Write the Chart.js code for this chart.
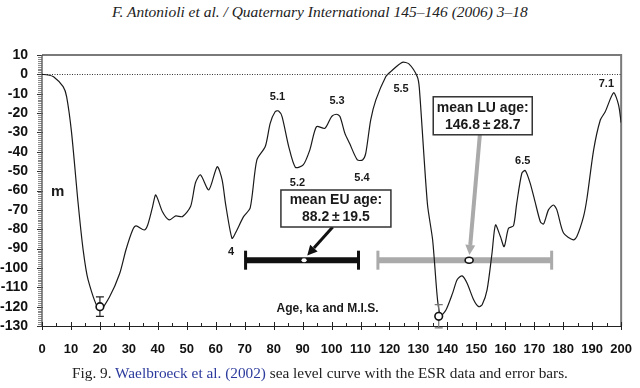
<!DOCTYPE html>
<html>
<head>
<meta charset="utf-8">
<script src="https://cdn.jsdelivr.net/npm/chart.js@4"></script>
<style>
  html, body { margin: 0; padding: 0; background: #fff; }
  #wrap { position: relative; width: 640px; height: 388px; overflow: hidden; }
  #chart { position: absolute; left: 0; top: 0; }
  .hdr { position: absolute; left: 0; width: 640px; text-align: center; font-family: "Liberation Serif", "DejaVu Serif", serif; color: #222; white-space: nowrap; }
  #title { top: 3px; font-size: 15.5px; font-style: italic; }
  #caption { top: 364px; font-size: 15.3px; }
  #caption span { color: #2b3a9c; }
</style>
</head>
<body>
<div id="wrap">
  <div id="title" class="hdr">F. Antonioli et al. / Quaternary International 145–146 (2006) 3–18</div>
  <canvas id="chart" width="640" height="388"></canvas>
  <div id="caption" class="hdr">Fig. 9. <span>Waelbroeck et al. (2002)</span> sea level curve with the ESR data and error bars.</div>
</div>
<script>
// Waelbroeck et al. (2002) sea level curve
const ages = [0, 2, 4, 7.3, 8.5, 10.2, 12.5, 14.2, 15.9, 19.9, 23.3, 26.8, 29, 31.3, 32.5, 35.3, 36.5, 38.2, 39.3,
  41.6, 43.9, 46.2, 48.5, 51.3, 53, 54.7, 57.6, 60.5, 62.2, 63.4, 65.6, 66.8, 69.6, 71.9, 74.2, 77.1, 78.8,
  80.5, 81.7, 82.9, 85.2, 87.5, 90.2, 92.5, 94.8, 97.7, 100, 101.7, 102.9, 104.6, 106.2, 108.9, 110.7, 111.8,
  113.5, 115.3, 118.7, 120.4, 124.4, 126.7, 129.6, 130.3, 133.1, 134.9, 136.6, 137.7, 139.5, 141.8, 143.4,
  145.1, 146.8, 149.1, 150.8, 152, 153.7, 155.4, 156.6, 158.3, 159.6, 161.1, 162.8, 163.9, 165.7, 166.9,
  168.6, 170.3, 172.1, 173.2, 174.9, 176.6, 177.8, 180.1, 183.5, 184.7, 187, 188.2, 190.5, 192.8, 194.5,
  197.4, 199.1, 200];
const seaLevel = [0, -0.3, -1.2, -6.3, -11.5, -30, -67, -90.6, -106, -121.7, -115, -103, -90.6, -80.4, -78.3, -80.4, -77.8, -68.3, -62.3,
  -71, -75.2, -73.1, -73.5, -68.3, -56, -51.9, -59.7, -47.7, -54.5, -67, -84.7, -82, -73.5, -69, -44.2, -37.3, -25.3,
  -19.3, -18.9, -21.8, -37.3, -48, -46.8, -39, -27, -27.9, -21.8, -20.6, -21.8, -30.5, -35.6, -44.2, -44.2, -40.8,
  -23.6, -13.2, -1.2, 1.4, 6.2, 5.4, -1.2, -7, -67, -85.6, -116.6, -124.5, -121.7, -113, -106,
  -104.1, -107.9, -116.6, -120, -119, -111.3, -92.4, -77.8, -83.8, -89, -79.5, -78.3, -67, -51.1, -49.7,
  -56.3, -66, -76.1, -77.3, -70, -67.5, -70, -82, -85.5, -83.8, -73.5, -64, -39, -23.6, -19.3,
  -9.5, -15.8, -25];

// ESR samples with error bars
const esrAge = [20, 137];
const esrLevel = [-120, -125];
const esrLow = [-125, -131];
const esrHigh = [-115, -119];

// mean ages with spread (as drawn)
const meanNames = ["mean EU age:", "mean LU age:"];
const meanText = ["88.2\u2009\u00b1\u200919.5", "146.8\u2009\u00b1\u200928.7"];
const meanFrom = [70.3, 116];
const meanTo = [109.3, 176];
const meanAt = [90.5, 147.5];
const meanLevel = [-96, -96];

// marine isotope stage labels
const misNames = ["5.1", "5.2", "5.3", "5.4", "5.5", "4", "6.5", "7.1"];
const misAge = [81.3, 88.2, 101.9, 110.5, 124, 65.3, 166, 194.9];
const misLevel = [-11.5, -56, -13.6, -53.7, -7.7, -91.9, -44.7, -5.1];

const xTicks = [0, 10, 20, 30, 40, 50, 60, 70, 80, 90, 100, 110, 120, 130, 140, 150, 160, 170, 180, 190, 200];
const yTicks = [10, 0, -10, -20, -30, -40, -50, -60, -70, -80, -90, -100, -110, -120, -130];

const SANS = '"Liberation Sans", Arial, sans-serif';

const decor = {
  id: "decor",
  beforeDatasetsDraw(chart) {
    const { ctx, chartArea: a, scales: { x, y } } = chart;
    ctx.save();
    // frame top + right
    ctx.strokeStyle = "#7a7a7a";
    ctx.lineWidth = 2;
    ctx.beginPath();
    ctx.moveTo(a.left, a.top); ctx.lineTo(a.right, a.top); ctx.lineTo(a.right, a.bottom);
    ctx.stroke();
    // left axis with dense minor ticks
    ctx.strokeStyle = "#8a8a8a";
    ctx.lineWidth = 1;
    for (let v = -130; v <= 10; v++) {
      const py = Math.round(y.getPixelForValue(v)) + 0.5;
      ctx.beginPath();
      ctx.moveTo(a.left - 4, py); ctx.lineTo(a.left, py);
      ctx.stroke();
    }
    ctx.strokeStyle = "#333";
    for (let v = -130; v <= 10; v += 10) {
      const py = Math.round(y.getPixelForValue(v)) + 0.5;
      ctx.beginPath();
      ctx.moveTo(a.left - 5, py); ctx.lineTo(a.left + 1, py);
      ctx.stroke();
    }
    ctx.strokeStyle = "#666";
    ctx.lineWidth = 1.5;
    ctx.beginPath();
    ctx.moveTo(a.left, a.top); ctx.lineTo(a.left, a.bottom);
    ctx.stroke();
    // bottom axis
    ctx.strokeStyle = "#222";
    ctx.lineWidth = 1;
    ctx.beginPath();
    ctx.moveTo(a.left, a.bottom + 0.5); ctx.lineTo(a.right, a.bottom + 0.5);
    ctx.stroke();
    for (let v = 0; v <= 200; v += 5) {
      const px = Math.round(x.getPixelForValue(v)) + 0.5;
      const major = v % 10 === 0;
      ctx.beginPath();
      ctx.moveTo(px, a.bottom - (major ? 4 : 3));
      ctx.lineTo(px, a.bottom + (major ? 4 : 0));
      ctx.stroke();
    }
    // dotted zero line
    ctx.strokeStyle = "#333";
    ctx.setLineDash([1, 1.5]);
    const y0 = Math.round(y.getPixelForValue(0)) + 0.5;
    ctx.beginPath();
    ctx.moveTo(a.left, y0); ctx.lineTo(a.right, y0);
    ctx.stroke();
    ctx.setLineDash([]);
    ctx.restore();
  },
  afterDatasetsDraw(chart) {
    const { ctx, scales: { x, y } } = chart;
    ctx.save();
    // caps on mean-age bars
    const barCol = ["#111", "#aaaaaa"];
    meanFrom.forEach((f, i) => {
      const py = y.getPixelForValue(meanLevel[i]);
      ctx.strokeStyle = barCol[i];
      ctx.lineWidth = 3;
      [f, meanTo[i]].forEach(v => {
        const px = x.getPixelForValue(v);
        ctx.beginPath();
        ctx.moveTo(px, py - 9.5); ctx.lineTo(px, py + 9.5);
        ctx.stroke();
      });
    });
    // dots on mean bars
    let px = x.getPixelForValue(meanAt[0]), py = y.getPixelForValue(meanLevel[0]);
    ctx.fillStyle = "#fff";
    ctx.beginPath(); ctx.ellipse(px, py, 2.6, 2, 0, 0, Math.PI * 2); ctx.fill();
    px = x.getPixelForValue(meanAt[1]); py = y.getPixelForValue(meanLevel[1]);
    ctx.strokeStyle = "#111"; ctx.lineWidth = 1.6;
    ctx.beginPath(); ctx.ellipse(px, py, 4, 3, 0, 0, Math.PI * 2); ctx.fill(); ctx.stroke();

    // ESR error whiskers
    const errCol = ["#222", "#777"];
    esrAge.forEach((v, i) => {
      const ex = x.getPixelForValue(v);
      const top = y.getPixelForValue(esrHigh[i]), bot = y.getPixelForValue(esrLow[i]);
      ctx.strokeStyle = errCol[i];
      ctx.lineWidth = 1.2;
      ctx.beginPath();
      ctx.moveTo(ex, top); ctx.lineTo(ex, bot);
      ctx.moveTo(ex - 4, top); ctx.lineTo(ex + 4, top);
      ctx.moveTo(ex - 4, bot); ctx.lineTo(ex + 4, bot);
      ctx.stroke();
      const ey = y.getPixelForValue(esrLevel[i]);
      ctx.fillStyle = "#fff";
      ctx.strokeStyle = "#111";
      ctx.lineWidth = 1.6;
      ctx.beginPath(); ctx.arc(ex, ey, 3.8, 0, Math.PI * 2); ctx.fill(); ctx.stroke();
    });

    // label boxes and arrows
    const boxes = [
      { cx: 101.5, cy: -69.3, w: 110, h: 37, ax: 100.4, ay: -78.8, tx: 91.6, ty: -93.6, col: "#111", lw: 3 },
      { cx: 152.2, cy: -21.4, w: 99, h: 38, ax: 151.2, ay: -31.3, tx: 147.6, ty: -93.3, col: "#aaaaaa", lw: 4 }
    ];
    boxes.forEach((b, i) => {
      // arrow
      const x1 = x.getPixelForValue(b.ax), y1 = y.getPixelForValue(b.ay);
      const x2 = x.getPixelForValue(b.tx), y2 = y.getPixelForValue(b.ty);
      const ang = Math.atan2(y2 - y1, x2 - x1);
      const hl = 10, hw = 5;
      const bx = x2 - hl * Math.cos(ang), by = y2 - hl * Math.sin(ang);
      ctx.strokeStyle = b.col; ctx.fillStyle = b.col; ctx.lineWidth = b.lw;
      ctx.beginPath(); ctx.moveTo(x1, y1); ctx.lineTo(bx, by); ctx.stroke();
      ctx.beginPath();
      ctx.moveTo(x2, y2);
      ctx.lineTo(bx + hw * Math.sin(ang), by - hw * Math.cos(ang));
      ctx.lineTo(bx - hw * Math.sin(ang), by + hw * Math.cos(ang));
      ctx.closePath(); ctx.fill();
      // box
      const cx = x.getPixelForValue(b.cx), cy = y.getPixelForValue(b.cy);
      ctx.fillStyle = "#fff";
      ctx.strokeStyle = "#333"; ctx.lineWidth = 1.5;
      ctx.fillRect(cx - b.w / 2, cy - b.h / 2, b.w, b.h);
      ctx.strokeRect(cx - b.w / 2, cy - b.h / 2, b.w, b.h);
      ctx.fillStyle = "#1a1a1a";
      ctx.font = "bold 14px " + SANS;
      ctx.textAlign = "center"; ctx.textBaseline = "middle";
      ctx.fillText(meanNames[i], cx, cy - 8);
      ctx.fillText(meanText[i], cx, cy + 9);
    });

    // stage labels
    ctx.fillStyle = "#1a1a1a";
    ctx.font = "bold 11px " + SANS;
    ctx.textAlign = "center"; ctx.textBaseline = "middle";
    misNames.forEach((t, i) => ctx.fillText(t, x.getPixelForValue(misAge[i]), y.getPixelForValue(misLevel[i])));

    // axis titles
    ctx.font = "bold 12px " + SANS;
    ctx.fillText("Age, ka and M.I.S.", x.getPixelForValue(98.6), y.getPixelForValue(-121.3));
    ctx.font = "bold 15px " + SANS;
    ctx.fillText("m", x.getPixelForValue(5.4), y.getPixelForValue(-60.6));
    ctx.restore();
  }
};

new Chart(document.getElementById("chart"), {
  type: "scatter",
  data: {
    datasets: [
      {
        data: ages.map((a, i) => ({ x: a, y: seaLevel[i] })),
        showLine: true,
        borderColor: "#1a1a1a",
        borderWidth: 1.2,
        pointRadius: 0,
        tension: 0.25
      },
      {
        data: [{ x: meanFrom[0], y: meanLevel[0] }, { x: meanTo[0], y: meanLevel[0] }],
        showLine: true, borderColor: "#111", borderWidth: 6, pointRadius: 0, borderCapStyle: "butt"
      },
      {
        data: [{ x: meanFrom[1], y: meanLevel[1] }, { x: meanTo[1], y: meanLevel[1] }],
        showLine: true, borderColor: "#aaaaaa", borderWidth: 6, pointRadius: 0, borderCapStyle: "butt"
      }
    ]
  },
  options: {
    responsive: false,
    animation: false,
    events: [],
    layout: { padding: { left: 0, top: 55, right: 15, bottom: 32 } },
    plugins: { legend: { display: false }, tooltip: { enabled: false } },
    scales: {
      x: {
        type: "linear", min: 0, max: 200,
        grid: { display: false }, border: { display: false },
        afterFit: s => { s.height = 30; },
        afterBuildTicks: s => { s.ticks = xTicks.map(v => ({ value: v })); },
        ticks: { color: "#111", padding: 8, maxRotation: 0, autoSkip: false, font: { family: SANS, size: 13, weight: "bold" } }
      },
      y: {
        min: -130, max: 10,
        grid: { display: false }, border: { display: false },
        afterFit: s => { s.width = 42; },
        afterBuildTicks: s => { s.ticks = yTicks.map(v => ({ value: v })); },
        ticks: { color: "#111", padding: 6, autoSkip: false, font: { family: SANS, size: 14, weight: "bold" } }
      }
    }
  },
  plugins: [decor]
});
</script>
</body>
</html>
